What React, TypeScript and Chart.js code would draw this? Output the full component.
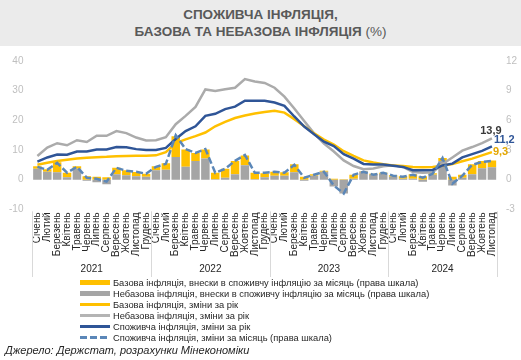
import React, { useEffect, useRef } from 'react';
import { Chart, registerables } from 'chart.js';

Chart.register(...registerables);

const CATEGORIES = [
  'Січень', 'Лютий', 'Березень', 'Квітень', 'Травень', 'Червень', 'Липень', 'Серпень', 'Вересень', 'Жовтень', 'Листопад', 'Грудень',
  'Січень', 'Лютий', 'Березень', 'Квітень', 'Травень', 'Червень', 'Липень', 'Серпень', 'Вересень', 'Жовтень', 'Листопад', 'Грудень',
  'Січень', 'Лютий', 'Березень', 'Квітень', 'Травень', 'Червень', 'Липень', 'Серпень', 'Вересень', 'Жовтень', 'Листопад', 'Грудень',
  'Січень', 'Лютий', 'Березень', 'Квітень', 'Травень', 'Червень', 'Липень', 'Серпень', 'Вересень', 'Жовтень', 'Листопад',
];

const YEARS = ['2021', '2022', '2023', '2024'];
// first and last category index of each year group
const YEAR_SPANS = [[0, 11], [12, 23], [24, 35], [36, 46]];

// right axis (monthly contributions, p.p.)
const CORE_CONTRIB = [
  0.25, 0.25, 1.0, 0.45, 0.25, 0.35, 0.3, 0.25, 0.65, 0.5, 0.42, 0.3,
  0.4, 0.65, 2.1, 1.75, 0.8, 0.9, 0.65, 0.9, 1.35, 1.0, 0.65, 0.4,
  0.4, 0.35, 0.8, 0.3, 0.15, 0.1, 0.1, 0.05, 0.4, 0.05, 0.1, 0.1,
  0.15, 0.25, 0.45, 0.35, 0.15, 0.3, 0.3, 0.3, 1.0, 0.75, 0.7,
];
const NONCORE_CONTRIB = [
  1.1, 0.8, 0.75, 0.25, 1.1, -0.1, -0.25, -0.45, 0.55, 0.45, 0.35, 0.3,
  0.95, 1.0, 2.3, 1.3, 1.9, 2.15, 0.05, 0.2, 0.55, 1.45, 0.05, 0.25,
  0.4, 0.4, 0.75, -0.1, 0.4, 0.8, -0.7, -1.4, 0.1, 0.8, 0.5, 0.6,
  0.3, 0.1, 0.1, -0.2, 0.5, 1.9, -0.6, 0.2, 0.55, 1.15, 1.25,
];
const CPI_MOM = [
  1.3, 1.0, 1.7, 0.7, 1.3, 0.2, 0.1, -0.2, 1.2, 0.9, 0.8, 0.6,
  1.3, 1.6, 4.5, 3.1, 2.7, 3.1, 0.7, 1.1, 1.9, 2.5, 0.7, 0.7,
  0.8, 0.7, 1.5, 0.2, 0.5, 0.8, -0.6, -1.4, 0.5, 0.8, 0.5, 0.7,
  0.4, 0.3, 0.5, 0.2, 0.6, 2.2, -0.4, 0.4, 1.5, 1.8, 1.9,
];

// left axis (year-on-year, %)
const CORE_YOY = [
  5.0, 5.7, 6.3, 6.7, 7.1, 7.4, 7.6, 7.7, 7.9, 8.0, 8.1, 8.1,
  8.2, 9.3, 12.3, 13.6, 14.7, 15.9, 18.0, 19.5, 20.8, 21.6, 22.3, 22.8,
  23.2, 22.6, 20.4, 18.0, 15.6, 13.5, 11.8, 9.6, 8.0, 6.5, 5.8, 5.2,
  4.8, 4.6, 4.3, 4.2, 4.3, 4.7, 5.3, 6.2, 7.1, 8.2, 9.3,
];
const NONCORE_YOY = [
  8.0, 10.8, 12.3, 11.6, 13.3, 12.7, 14.8, 14.8, 16.4, 15.7, 14.2, 13.2,
  13.3, 14.3, 18.7, 21.5, 24.5, 30.4, 29.9, 30.5, 31.0, 33.9, 33.1, 32.6,
  31.0, 28.0, 24.0, 19.8, 15.6, 12.2, 9.5, 6.5, 4.6, 3.5, 3.8, 4.5,
  4.9, 4.3, 2.6, 2.3, 2.5, 5.3, 7.5, 9.8, 11.0, 12.3, 13.9,
];
const CPI_YOY = [
  6.1, 7.5, 8.5, 8.4, 9.5, 9.5, 10.2, 10.2, 11.0, 10.9, 10.3, 10.0,
  10.0, 10.7, 13.7, 16.4, 18.0, 21.5, 22.2, 23.8, 24.6, 26.6, 26.6, 26.6,
  26.0, 24.9, 21.3, 17.9, 15.3, 12.8, 11.3, 8.6, 7.1, 5.3, 5.1, 5.1,
  4.7, 4.3, 3.2, 3.2, 3.3, 4.8, 5.4, 7.5, 8.6, 9.7, 11.2,
];

const LABELS = [
  'Базова інфляція, внески в споживчу інфляцію за місяць (права шкала)',
  'Небазова інфляція, внески в споживчу інфляцію за місяць (права шкала)',
  'Базова інфляція, зміни за рік',
  'Небазова інфляція, зміни за рік',
  'Споживча інфляція, зміни за рік',
  'Споживча інфляція, зміни за місяць (права шкала)',
];

const YELLOW = '#FFC000';
const GRAY = '#A5A5A5';
const GRAY_LINE = '#ABABAB';
const BLUE = '#2F5597';
const DASH_BLUE = '#5B87B8';
const FONT = '"Liberation Sans", Arial, sans-serif';

const yearAxis = {
  id: 'yearAxis',
  afterDraw(chart: any) {
    const ctx = chart.ctx;
    const x = chart.scales.x;
    const half = (x.getPixelForValue(1) - x.getPixelForValue(0)) / 2;
    ctx.save();
    ctx.strokeStyle = '#D9D9D9';
    ctx.lineWidth = 1;
    const bounds: number[] = [];
    YEAR_SPANS.forEach(([a, b], i) => {
      if (i === 0) bounds.push(x.getPixelForValue(a) - half);
      bounds.push(x.getPixelForValue(b) + half);
    });
    for (const b of bounds) {
      const px = Math.round(b) + 0.5;
      ctx.beginPath();
      ctx.moveTo(px, chart.chartArea.bottom + 2);
      ctx.lineTo(px, chart.height - 3);
      ctx.stroke();
    }
    ctx.fillStyle = '#262626';
    ctx.font = `10px ${FONT}`;
    ctx.textAlign = 'center';
    ctx.textBaseline = 'middle';
    YEAR_SPANS.forEach(([a, b], i) => {
      const cx = (x.getPixelForValue(a) + x.getPixelForValue(b)) / 2;
      ctx.fillText(YEARS[i], cx, x.bottom + 9);
    });
    ctx.restore();
  },
};

const END_LABELS = [
  { ds: 3, color: '#3A3A3A', dx: -1, dy: -7, align: 'center' },
  { ds: 4, color: BLUE, dx: 2, dy: -6, align: 'left' },
  { ds: 2, color: '#E3A600', dx: 1, dy: 0, align: 'left' },
];

const endLabels = {
  id: 'endLabels',
  afterDatasetsDraw(chart: any) {
    const ctx = chart.ctx;
    ctx.save();
    ctx.font = `bold 11px ${FONT}`;
    ctx.textBaseline = 'middle';
    for (const s of END_LABELS) {
      const meta = chart.getDatasetMeta(s.ds);
      const data = chart.data.datasets[s.ds].data as number[];
      const last = meta.data[data.length - 1];
      const text = data[data.length - 1].toFixed(1).replace('.', ',');
      ctx.fillStyle = s.color;
      ctx.textAlign = s.align;
      ctx.fillText(text, last.x + s.dx, last.y + s.dy);
    }
    ctx.restore();
  },
};

const LEGEND_ITEMS = [
  { kind: 'bar', color: YELLOW },
  { kind: 'bar', color: GRAY },
  { kind: 'line', color: YELLOW },
  { kind: 'line', color: '#B4B4B4' },
  { kind: 'line', color: BLUE },
  { kind: 'dash', color: DASH_BLUE },
];

export default function App() {
  const ref = useRef<HTMLCanvasElement>(null);

  useEffect(() => {
    document.body.style.margin = '0';
    Chart.defaults.font.family = FONT;
    const chart = new Chart(ref.current as HTMLCanvasElement, {
      type: 'bar',
      data: {
        labels: CATEGORIES,
        datasets: [
          {
            type: 'bar', label: LABELS[0], data: CORE_CONTRIB, backgroundColor: YELLOW, borderWidth: 0,
            yAxisID: 'y2', xAxisID: 'x', stack: 'contrib', order: 5, barPercentage: 0.86, categoryPercentage: 1,
          },
          {
            type: 'bar', label: LABELS[1], data: NONCORE_CONTRIB, backgroundColor: GRAY, borderWidth: 0,
            yAxisID: 'y2', xAxisID: 'x', stack: 'contrib', order: 4, barPercentage: 0.86, categoryPercentage: 1,
          },
          {
            type: 'line', label: LABELS[2], data: CORE_YOY, borderColor: YELLOW, borderWidth: 2.5,
            pointRadius: 0, tension: 0, yAxisID: 'y', xAxisID: 'x', order: 2,
          },
          {
            type: 'line', label: LABELS[3], data: NONCORE_YOY, borderColor: GRAY_LINE, borderWidth: 2.5,
            pointRadius: 0, tension: 0, yAxisID: 'y', xAxisID: 'x', order: 3,
          },
          {
            type: 'line', label: LABELS[4], data: CPI_YOY, borderColor: BLUE, borderWidth: 2.5,
            pointRadius: 0, tension: 0, yAxisID: 'y', xAxisID: 'x', order: 1,
          },
          {
            type: 'line', label: LABELS[5], data: CPI_MOM, borderColor: DASH_BLUE, borderWidth: 2.5,
            borderDash: [7, 3], pointRadius: 0, tension: 0, yAxisID: 'y2', xAxisID: 'x', stack: 'mom', order: 0,
          },
        ] as any,
      },
      options: {
        responsive: false,
        animation: false,
        layout: { padding: { left: 0, right: -5, top: 12, bottom: 20 } },
        plugins: { legend: { display: false }, tooltip: { enabled: false }, title: { display: false } },
        scales: {
          x: {
            type: 'category', position: 'bottom',
            grid: { display: false, drawTicks: false }, border: { display: false },
            ticks: { autoSkip: false, minRotation: 90, maxRotation: 90, padding: 3, color: '#262626', font: { size: 10 } },
          },
          y: {
            position: 'left', min: -10, max: 40,
            ticks: { stepSize: 10, color: '#BFBFBF', font: { size: 10 }, padding: 9 },
            grid: { display: false, drawTicks: false }, border: { display: false },
          },
          y2: {
            position: 'right', min: -3, max: 12,
            ticks: { stepSize: 3, color: '#BFBFBF', font: { size: 10 }, padding: 9 },
            grid: { display: false, drawTicks: false }, border: { display: false },
          },
        },
      } as any,
      plugins: [yearAxis, endLabels],
    });
    return () => chart.destroy();
  }, []);

  return (
    <div style={{ position: 'absolute', left: 0, top: 0, width: 521, height: 360, background: '#fff', fontFamily: FONT, overflow: 'hidden' }}>
      <div style={{ position: 'absolute', left: 0, top: 0, width: 521, height: 46, background: '#EBEBEB', color: '#595959', textAlign: 'center', fontSize: 13.5, lineHeight: '17px', paddingTop: 6, boxSizing: 'border-box' }}>
        <b>СПОЖИВЧА ІНФЛЯЦІЯ,</b>
        <br />
        <b>БАЗОВА ТА НЕБАЗОВА ІНФЛЯЦІЯ</b> (%)
      </div>
      <canvas ref={ref} width={521} height={234} style={{ position: 'absolute', left: 0, top: 46, width: 521, height: 234 }} />
      <div style={{ position: 'absolute', left: 80, top: 277, fontSize: 9.33, color: '#262626' }}>
        {LEGEND_ITEMS.map((it, i) => (
          <div key={i} style={{ display: 'flex', alignItems: 'center', height: 11, whiteSpace: 'nowrap' }}>
            <span
              style={{
                display: 'inline-block', width: 30, marginRight: 3,
                height: it.kind === 'bar' ? 4.5 : 2.5,
                background: it.kind === 'dash'
                  ? `repeating-linear-gradient(to right, ${it.color} 0 7px, transparent 7px 10px)`
                  : it.color,
              }}
            />
            <span>{LABELS[i]}</span>
          </div>
        ))}
      </div>
      <div style={{ position: 'absolute', left: 5, top: 343, fontSize: 11, fontStyle: 'italic', color: '#262626', lineHeight: '14px', whiteSpace: 'nowrap' }}>
        Джерело: Держстат, розрахунки Мінекономіки
      </div>
    </div>
  );
}
